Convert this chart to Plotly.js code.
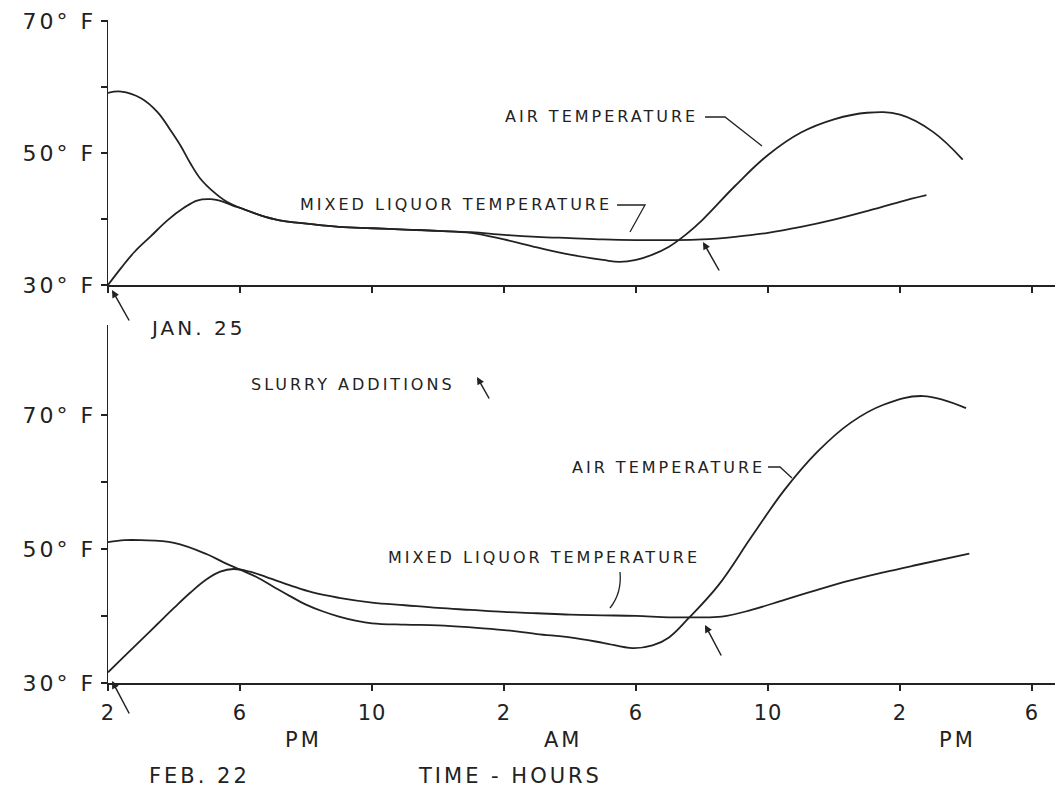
<!DOCTYPE html>
<html>
<head>
<meta charset="utf-8">
<script src="https://cdn.plot.ly/plotly-3.0.1.min.js"></script>
<style>
html,body{margin:0;padding:0;background:#fff;}
#chart{width:1059px;height:789px;}
text.annotation-text{letter-spacing:3px;}
.x2tick text{letter-spacing:1px;}
.ytick text,.y2tick text{letter-spacing:3px;}
</style>
</head>
<body>
<div id="chart"></div>
<script>
// ---- data (hours after 2 PM, temperature in °F) ----
const hourTicks = [0, 4, 8, 12, 16, 20, 24, 28];
const hourLabels = ['2', '6', '10', '2', '6', '10', '2', '6'];
const tempTicks = [30, 40, 50, 60, 70];
const tempLabels = ['30° F', '', '50° F', '', '70° F'];

// Jan. 25 (upper panel)
const jan25AirHours = [0, 0.4, 1.0, 1.5, 1.9, 2.2, 2.5, 2.8, 3.2, 3.6, 4.0, 4.6, 5.2, 5.8, 7.0, 8.0, 9.0, 10.0, 11.0, 12.0, 13.0, 14.0, 15.0, 15.5, 16.0, 16.5, 17.0, 17.5, 18.0, 19.0, 20.0, 21.0, 22.0, 23.0, 24.0, 25.0, 25.9];
const jan25AirTemp  = [59.1, 59.3, 58.3, 56.2, 53.4, 51.1, 48.4, 46.1, 44.1, 42.6, 41.7, 40.6, 39.8, 39.4, 38.8, 38.6, 38.4, 38.2, 37.9, 36.9, 35.7, 34.6, 33.8, 33.5, 33.8, 34.6, 35.8, 37.6, 39.8, 45.0, 49.7, 53.1, 55.1, 56.1, 55.8, 53.2, 49.0];
const jan25MixedHours = [0, 0.4, 0.8, 1.3, 1.8, 2.3, 2.7, 3.1, 3.5, 3.8, 4.0, 4.6, 5.2, 5.8, 7.0, 8.0, 9.0, 10.0, 11.0, 12.0, 13.0, 14.0, 15.0, 16.0, 17.0, 18.0, 19.0, 20.0, 21.0, 22.0, 23.0, 24.0, 24.8];
const jan25MixedTemp  = [30.0, 32.6, 35.0, 37.4, 39.8, 41.7, 42.8, 43.0, 42.6, 42.0, 41.7, 40.6, 39.8, 39.4, 38.8, 38.6, 38.4, 38.2, 38.0, 37.6, 37.3, 37.1, 36.9, 36.8, 36.8, 36.9, 37.3, 37.9, 38.8, 39.9, 41.2, 42.6, 43.6];

// Feb. 22 (lower panel)
const feb22AirHours = [0, 0.5, 1.0, 2.0, 3.0, 3.5, 4.0, 4.5, 5.0, 5.5, 6.0, 6.5, 7.0, 7.5, 8.0, 9.0, 10.0, 11.0, 12.0, 13.0, 14.0, 15.0, 15.9, 16.5, 17.0, 17.6, 18.5, 19.5, 20.5, 21.5, 22.5, 23.5, 24.7, 26.0];
const feb22AirTemp  = [51.0, 51.3, 51.3, 50.9, 49.2, 48.0, 46.9, 45.8, 44.4, 43.0, 41.7, 40.7, 39.9, 39.3, 38.9, 38.7, 38.6, 38.3, 37.9, 37.3, 36.8, 36.0, 35.2, 35.6, 36.8, 39.7, 44.6, 51.8, 58.8, 64.5, 68.8, 71.5, 72.8, 71.0];
const feb22MixedHours = [0, 0.5, 1.0, 1.5, 2.0, 2.5, 3.0, 3.4, 3.8, 4.3, 4.8, 5.5, 6.2, 7.0, 8.0, 9.0, 10.0, 11.0, 12.0, 13.0, 14.0, 15.0, 16.0, 17.0, 17.6, 18.6, 19.5, 20.5, 21.5, 22.5, 23.5, 24.5, 26.1];
const feb22MixedTemp  = [31.6, 34.0, 36.4, 38.8, 41.2, 43.5, 45.5, 46.6, 47.0, 46.6, 45.8, 44.6, 43.5, 42.7, 42.0, 41.6, 41.2, 40.9, 40.6, 40.4, 40.2, 40.1, 40.0, 39.8, 39.8, 39.9, 40.9, 42.4, 43.9, 45.3, 46.5, 47.6, 49.3];

// ---- styling / layout helpers ----
const INK = '#222';
const FONT = 'DejaVu Sans, Liberation Sans, sans-serif';
const lineStyle = {color: INK, width: 1.8, shape: 'spline', smoothing: 1.1};

function curve(x, y, xa, ya) {
  return {x: x, y: y, xaxis: xa, yaxis: ya, type: 'scatter', mode: 'lines',
          line: lineStyle, hoverinfo: 'skip', showlegend: false};
}

const traces = [
  curve(jan25AirHours, jan25AirTemp, 'x', 'y'),
  curve(jan25MixedHours, jan25MixedTemp, 'x', 'y'),
  curve(feb22AirHours, feb22AirTemp, 'x2', 'y2'),
  curve(feb22MixedHours, feb22MixedTemp, 'x2', 'y2')
];

// page-pixel -> paper helpers for decorations (plot area: x 108..1055, y 20..683)
const PX = p => (p - 108) / 947;
const PY = p => (683 - p) / 663;

function label(text, x, y, size, xanchor) {
  return {text: text, xref: 'paper', yref: 'paper', x: PX(x), y: PY(y),
          xanchor: xanchor || 'left', yanchor: 'middle', showarrow: false,
          font: {family: FONT, size: size || 16, color: INK}};
}
function arrow(x, y, ax, ay) {
  return {text: '', xref: 'paper', yref: 'paper', x: PX(x), y: PY(y),
          ax: ax, ay: ay, showarrow: true, arrowhead: 2, arrowsize: 1,
          arrowwidth: 1.5, arrowcolor: INK};
}
function leader(pts, curved) {
  let d;
  if (curved) {
    d = `M ${PX(pts[0][0])} ${PY(pts[0][1])} Q ${PX(pts[1][0])} ${PY(pts[1][1])} ${PX(pts[2][0])} ${PY(pts[2][1])}`;
  } else {
    d = pts.map((p, i) => (i ? 'L ' : 'M ') + PX(p[0]) + ' ' + PY(p[1])).join(' ');
  }
  return {type: 'path', xref: 'paper', yref: 'paper', path: d,
          line: {color: INK, width: 1.3}};
}

const annotations = [
  label('AIR TEMPERATURE', 503, 116),
  label('MIXED LIQUOR TEMPERATURE', 298, 204),
  arrow(703, 242, 17, 30),
  label('JAN. 25', 148, 328, 20),
  arrow(112, 290, 18, 32),
  label('SLURRY ADDITIONS', 249, 384),
  arrow(477, 377, 13, 23),
  label('AIR TEMPERATURE', 570, 467),
  label('MIXED LIQUOR TEMPERATURE', 386, 557),
  arrow(705, 625, 17, 32),
  arrow(112, 681, 18, 34),
  label('PM', 303, 740, 21, 'center'),
  label('AM', 563, 740, 21, 'center'),
  label('PM', 957, 740, 21, 'center'),
  label('FEB. 22', 199, 776, 21, 'center'),
  label('TIME - HOURS', 510, 776, 21, 'center')
];

const shapes = [
  leader([[705, 117], [725, 117], [762, 146]]),
  leader([[617, 205], [645, 205], [630, 232]]),
  leader([[768, 467], [780, 467], [792, 478]]),
  leader([[620, 572], [622, 593], [610, 608]], true)
];

const xCommon = {
  range: [0, 947 / 33], tickvals: hourTicks, ticktext: hourLabels,
  ticks: 'outside', ticklen: 6, tickwidth: 1.4, tickcolor: INK,
  showline: true, linecolor: INK, linewidth: 1.5,
  showgrid: false, zeroline: false, fixedrange: true,
  tickfont: {family: FONT, size: 21, color: INK}
};
const yCommon = {
  tickvals: tempTicks, ticktext: tempLabels,
  ticks: 'outside', ticklen: 6, tickwidth: 1.4, tickcolor: INK,
  showline: true, linecolor: INK, linewidth: 1.5,
  showgrid: false, zeroline: false, fixedrange: true,
  tickfont: {family: FONT, size: 22, color: INK}
};

const layout = {
  width: 1059, height: 789,
  margin: {l: 108, r: 4, t: 20, b: 106},
  paper_bgcolor: '#fff', plot_bgcolor: '#fff',
  showlegend: false,
  xaxis: Object.assign({}, xCommon, {domain: [0, 1], anchor: 'y', showticklabels: false}),
  yaxis: Object.assign({}, yCommon, {domain: [0.6003, 1], range: [30, 70.15], anchor: 'x'}),
  xaxis2: Object.assign({}, xCommon, {domain: [0, 1], anchor: 'y2', ticklabelstandoff: 4}),
  yaxis2: Object.assign({}, yCommon, {domain: [0, 0.54], range: [30, 83.4], anchor: 'x2'}),
  annotations: annotations,
  shapes: shapes
};

Plotly.newPlot('chart', traces, layout, {staticPlot: true, displayModeBar: false});
</script>
</body>
</html>
